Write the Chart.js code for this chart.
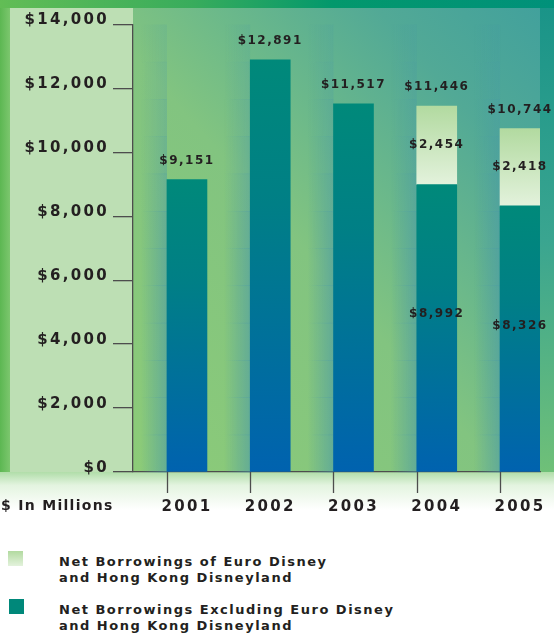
<!DOCTYPE html>
<html>
<head>
<meta charset="utf-8">
<script src="https://cdn.jsdelivr.net/npm/chart.js@4.4.0/dist/chart.umd.min.js"></script>
<style>
  html, body { margin: 0; padding: 0; background: #fff; }
  #page { position: relative; width: 554px; height: 633px; overflow: hidden; background: #fff;
          font-family: "DejaVu Sans", sans-serif; font-weight: bold; color: #231f20; }
  .bg { position: absolute; }
  #frame { left: 0; top: 0; width: 554px; height: 472px;
           background: linear-gradient(to right, #62bd55 0%, #38ac5c 35%, #03986c 60%, #00917a 100%); }
  #leftStrip { left: 0; top: 8px; width: 10px; height: 464px;
               background: linear-gradient(to right, #5cb752, #7cc66e); }
  #leftPanel { left: 10px; top: 8px; width: 123px; height: 464px; background: #bddfb4; }
  #plotBg { left: 133px; top: 8px; width: 407px; height: 464px;
            background: linear-gradient(to bottom left, #42a19c 0%, #52a996 20%, #6cb98a 40%, #82c480 55%, #8ccb78 100%); }
  #rightStrip { left: 540px; top: 8px; width: 14px; height: 464px;
                background: linear-gradient(to bottom, #1a9488 0%, #3aa590 50%, #6fc078 100%); }
  #bottomGlow { left: 0; top: 472px; width: 554px; height: 38px;
                background: linear-gradient(to bottom, rgba(150,210,140,0.75) 0%, rgba(205,235,198,0.55) 35%, rgba(255,255,255,0) 100%); }
  canvas { position: absolute; left: 0; top: 0; }
  #unit { position: absolute; left: 1px; top: 497px; font-size: 14px; letter-spacing: 1.3px; white-space: nowrap; }
  .swatch { position: absolute; width: 15px; height: 15px; }
  .legendText { position: absolute; left: 59px; font-size: 13px; line-height: 16px; letter-spacing: 1.5px; white-space: nowrap; }
</style>
</head>
<body>
<div id="page">
  <div class="bg" id="frame"></div>
  <div class="bg" id="leftStrip"></div>
  <div class="bg" id="leftPanel"></div>
  <div class="bg" id="plotBg"></div>
  <div class="bg" id="rightStrip"></div>
  <div class="bg" id="bottomGlow"></div>
  <canvas id="chart" width="554" height="530"></canvas>
  <div id="unit">$ In Millions</div>
  <div id="legend"></div>
</div>
<script>
// --- DATOS ---
const years = [2001, 2002, 2003, 2004, 2005];
const excludingValues = [9151, 12891, 11517, 8992, 8326];
const euroHkValues = [null, null, null, 2454, 2418];
const yTicks = [0, 2000, 4000, 6000, 8000, 10000, 12000, 14000];
const seriesNames = [
    'Net Borrowings of Euro Disney\nand Hong Kong Disneyland',
    'Net Borrowings Excluding Euro Disney\nand Hong Kong Disneyland'
];

const money = v => '$' + v.toLocaleString('en-US');

// degradado vertical por barra
function segmentFill(ctx, stops, lower) {
    const chart = ctx.chart;
    const y = chart.scales.y;
    if (!chart.chartArea || !y || ctx.dataIndex === undefined) return stops[0][1];
    const i = ctx.dataIndex;
    const low = excludingValues[i];
    const top = lower ? y.getPixelForValue(low) : y.getPixelForValue(low + (euroHkValues[i] || 0));
    const bottom = lower ? y.getPixelForValue(0) : y.getPixelForValue(low);
    if (!isFinite(top) || !isFinite(bottom) || top === bottom) return stops[0][1];
    const g = chart.ctx.createLinearGradient(0, top, 0, bottom);
    stops.forEach(([p, c]) => g.addColorStop(p, c));
    return g;
}
const lowerStops = [[0, '#00897a'], [0.35, '#007f86'], [1, '#0062af']];
const upperStops = [[0, '#b2daa0'], [1, '#e3f2dc']];

// sombras entre barras (se desvanecen hacia arriba)
const gapShadows = {
    id: 'gapShadows',
    beforeDatasetsDraw(chart) {
        const { ctx, chartArea, scales: { x } } = chart;
        const h = chartArea.bottom - chartArea.top;
        const bands = 12;
        ctx.save();
        years.forEach(yr => {
            const left = x.getPixelForValue(yr) - 20;
            const g = ctx.createLinearGradient(left - 26, 0, left, 0);
            g.addColorStop(0, 'rgba(70,150,170,0)');
            g.addColorStop(1, 'rgba(70,150,170,0.55)');
            ctx.fillStyle = g;
            for (let b = 0; b < bands; b++) {
                const y0 = chartArea.top + h * b / bands;
                ctx.globalAlpha = Math.min(1, 0.25 + b / (bands * 0.6));
                ctx.fillRect(left - 26, y0, 26, h / bands + 0.5);
            }
        });
        ctx.restore();
    }
};

// marcas del eje X en el borde izquierdo de cada barra
const xTickMarks = {
    id: 'xTickMarks',
    afterDraw(chart) {
        const { ctx, chartArea, scales: { x } } = chart;
        ctx.save();
        ctx.strokeStyle = '#4d4d4d';
        ctx.lineWidth = 1.3;
        years.forEach(yr => {
            const px = Math.round(x.getPixelForValue(yr) - 20) + 0.5;
            ctx.beginPath();
            ctx.moveTo(px, chartArea.bottom);
            ctx.lineTo(px, chartArea.bottom + 21);
            ctx.stroke();
        });
        ctx.restore();
    }
};

const spacing = {
    id: 'spacing',
    beforeDraw(chart) { chart.ctx.letterSpacing = '2.3px'; }
};

const valueLabels = {
    id: 'valueLabels',
    afterDatasetsDraw(chart) {
        const { ctx, scales: { x, y } } = chart;
        ctx.save();
        ctx.font = 'bold 12px "DejaVu Sans"';
        ctx.letterSpacing = '1.5px';
        ctx.fillStyle = '#231f20';
        ctx.textAlign = 'center';
        ctx.textBaseline = 'middle';
        years.forEach((yr, i) => {
            const cx = x.getPixelForValue(yr);
            const low = excludingValues[i];
            const up = euroHkValues[i];
            const total = low + (up || 0);
            ctx.fillText(money(total), cx, y.getPixelForValue(total) - 19);
            if (up) {
                ctx.fillText(money(up), cx, y.getPixelForValue(low + up / 2));
                ctx.fillText(money(low), cx, y.getPixelForValue(low * 0.55));
            }
        });
        ctx.restore();
    }
};

const tickFont = { family: 'DejaVu Sans', size: 15, weight: 'bold' };

new Chart(document.getElementById('chart').getContext('2d'), {
    type: 'bar',
    data: {
        datasets: [{
            label: seriesNames[1],
            data: years.map((x, i) => ({ x, y: excludingValues[i] })),
            backgroundColor: c => segmentFill(c, lowerStops, true),
            stack: 'total',
            barThickness: 40,
            borderWidth: 0
        }, {
            label: seriesNames[0],
            data: years.map((x, i) => ({ x, y: euroHkValues[i] })),
            backgroundColor: c => segmentFill(c, upperStops, false),
            stack: 'total',
            barThickness: 40,
            borderWidth: 0
        }]
    },
    options: {
        responsive: false,
        animation: false,
        layout: { padding: { top: 24.5, right: 14, left: 0, bottom: 0 } },
        plugins: { legend: { display: false }, tooltip: { enabled: false } },
        scales: {
            x: {
                type: 'linear', min: 2000.352, max: 2005.24, offset: false,
                afterBuildTicks: s => { s.ticks = years.map(v => ({ value: v })); },
                afterFit: s => { s.height = 58; s.paddingLeft = 0; s.paddingRight = 0; },
                grid: { display: false, offset: false },
                border: { display: true, color: '#4d4d4d', width: 1.3 },
                ticks: { callback: v => String(v), color: '#231f20', font: tickFont, padding: 18, maxRotation: 0, autoSkip: false }
            },
            y: {
                stacked: true, min: 0, max: 14000,
                afterBuildTicks: s => { s.ticks = yTicks.map(v => ({ value: v })); },
                afterFit: s => { s.width = 133; },
                grid: { drawOnChartArea: false, drawTicks: true, tickLength: 20, color: '#4d4d4d', lineWidth: 1.3 },
                border: { display: true, color: '#4d4d4d', width: 1.3 },
                ticks: { callback: v => money(v), color: '#231f20', font: tickFont, padding: 4, labelOffset: -4 }
            }
        }
    },
    plugins: [spacing, gapShadows, valueLabels, xTickMarks]
});

// --- LEYENDA ---
const legend = document.getElementById('legend');
const legendSwatches = ['linear-gradient(to bottom, #b2daa0, #e3f2dc)', '#00887a'];
const legendTops = [551, 599];
seriesNames.forEach((name, i) => {
    const sw = document.createElement('div');
    sw.className = 'swatch';
    sw.style.left = (i === 0 ? 8 : 9) + 'px';
    sw.style.top = legendTops[i] + 'px';
    sw.style.background = legendSwatches[i];
    legend.appendChild(sw);
    const txt = document.createElement('div');
    txt.className = 'legendText';
    txt.style.top = (legendTops[i] + 3) + 'px';
    txt.innerHTML = name.split('\n').join('<br>');
    legend.appendChild(txt);
});
</script>
</body>
</html>
